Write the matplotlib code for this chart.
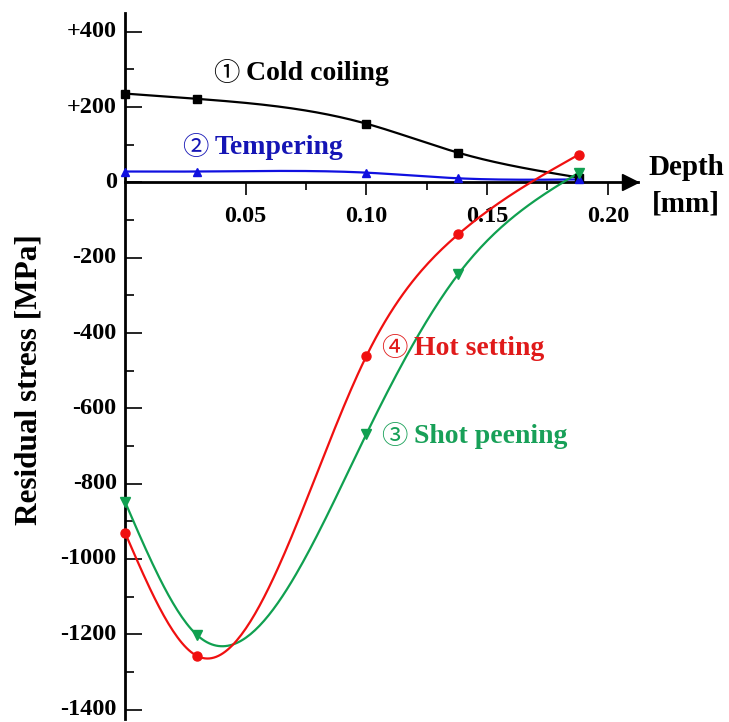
import numpy as np
import matplotlib.pyplot as plt

plt.rcParams['font.family'] = ['Liberation Serif', 'DejaVu Sans']
plt.rcParams['font.weight'] = 'bold'

# depth [mm] of the measuring points
depth = [0.0, 0.03, 0.10, 0.138, 0.188]

# residual stress [MPa]
cold_coiling = [236, 222, 156, 79, 13]
tempering = [29, 29, 26, 11, 8]
shot_peening = [-848, -1203, -668, -244, 26]
hot_setting = [-930, -1258, -461, -138, 74]

y_ticks = [400, 200, 0, -200, -400, -600, -800, -1000, -1200, -1400]
y_tick_labels = ['+400', '+200', '0', '-200', '-400', '-600', '-800',
                 '-1000', '-1200', '-1400']
x_ticks = [0.05, 0.10, 0.15, 0.20]
x_tick_labels = ['0.05', '0.10', '0.15', '0.20']


def spline(x, y, n=200):
    # natural cubic spline through the points
    x = np.asarray(x, float)
    y = np.asarray(y, float)
    k = len(x)
    h = np.diff(x)
    A = np.zeros((k, k))
    r = np.zeros(k)
    A[0, 0] = 1
    A[-1, -1] = 1
    for i in range(1, k - 1):
        A[i, i - 1] = h[i - 1]
        A[i, i] = 2 * (h[i - 1] + h[i])
        A[i, i + 1] = h[i]
        r[i] = 6 * ((y[i + 1] - y[i]) / h[i] - (y[i] - y[i - 1]) / h[i - 1])
    m = np.linalg.solve(A, r)
    xs = np.linspace(x[0], x[-1], n)
    idx = np.clip(np.searchsorted(x, xs) - 1, 0, k - 2)
    x0 = x[idx]
    x1 = x[idx + 1]
    hh = h[idx]
    ys = (m[idx] * (x1 - xs) ** 3 / (6 * hh) + m[idx + 1] * (xs - x0) ** 3 / (6 * hh)
          + (y[idx] / hh - m[idx] * hh / 6) * (x1 - xs)
          + (y[idx + 1] / hh - m[idx + 1] * hh / 6) * (xs - x0))
    return xs, ys


fig = plt.figure(figsize=(7.29, 7.22), dpi=100)
W, H = 729, 722
px0, px1 = 125, 638
py_top, py_bot = 13, 719
ax = fig.add_axes([px0 / W, (H - py_bot) / H, (px1 - px0) / W, (py_bot - py_top) / H])
ax.set_xlim(0, 0.2125)
ax.set_ylim(-1425, 450)

series = [
    (cold_coiling, 'black', 's', 5.5),
    (tempering, '#1010e0', '^', 6),
    (shot_peening, '#10a050', 'v', 6.5),
    (hot_setting, '#f01010', 'o', 6.5),
]
for vals, col, mk, ms in series:
    xs, ys = spline(depth, vals)
    ax.plot(xs, ys, color=col, lw=1.6, clip_on=False, zorder=3)
    ax.plot(depth, vals, linestyle='none', marker=mk, color=col, ms=ms,
            clip_on=False, zorder=4)

ax.spines['left'].set_position(('data', 0))
ax.spines['bottom'].set_position(('data', 0))
ax.spines['top'].set_visible(False)
ax.spines['right'].set_visible(False)
ax.spines['left'].set_linewidth(2)
ax.spines['bottom'].set_linewidth(2)
ax.plot(0.2092, 0, '>k', ms=11, clip_on=False, zorder=5)

ax.set_yticks(y_ticks)
ax.set_yticklabels(y_tick_labels)
ax.set_yticks([300, 100, -100, -300, -500, -700, -900, -1100, -1300], minor=True)
ax.tick_params(axis='y', which='major', direction='in', length=12, width=1.2,
               labelsize=17.5, pad=6)
ax.tick_params(axis='y', which='minor', direction='in', length=6.5, width=1.2)

ax.set_xticks(x_ticks)
ax.set_xticklabels(x_tick_labels)
ax.set_xticks([0.075, 0.125, 0.175], minor=True)
ax.tick_params(axis='x', which='major', direction='out', length=9, width=1.2,
               labelsize=17.5, pad=8)
ax.tick_params(axis='x', which='minor', direction='out', length=6, width=1.2)
for lab in ax.get_xticklabels() + ax.get_yticklabels():
    lab.set_fontweight('bold')
for lab in ax.get_yticklabels():
    lab.set_va('center')

fig.text(29 / W, 1 - 380 / H, 'Residual stress [MPa]', rotation=90,
         ha='center', va='center', fontsize=22.5, fontweight='bold')
fig.text(686 / W, 1 - 186 / H, 'Depth\n[mm]', ha='center', va='center',
         fontsize=21, fontweight='bold', linespacing=1.45)

labels = [
    ('\u2460', 'Cold coiling', 0.0365, 290, 'black'),
    ('\u2461', 'Tempering', 0.0235, 93, '#1515b5'),
    ('\u2463', 'Hot setting', 0.106, -440, '#e01a1a'),
    ('\u2462', 'Shot peening', 0.106, -675, '#18a058'),
]
for num, txt, xx, yy, col in labels:
    t = ax.text(xx, yy, num, color=col, fontsize=19, fontweight='normal',
                family=['Noto Sans CJK JP', 'DejaVu Sans'], ha='left', va='center')
    ax.annotate(txt, xy=(1, 0.5), xycoords=t, xytext=(5, 0),
                textcoords='offset points', color=col, fontsize=20,
                fontweight='bold', ha='left', va='center')

fig.savefig('out.png', dpi=100)
